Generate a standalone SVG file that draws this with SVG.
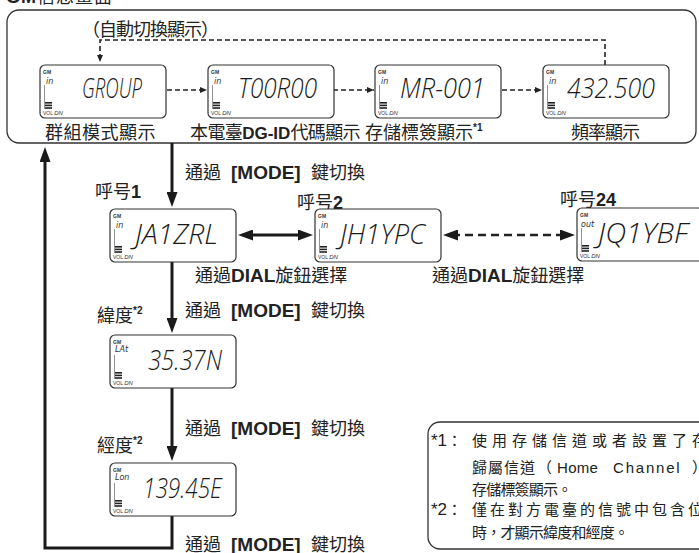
<svg xmlns="http://www.w3.org/2000/svg" xmlns:xlink="http://www.w3.org/1999/xlink" width="699" height="553" viewBox="0 0 699 553">
<style>
.lbl{font-family:"Noto Sans CJK TC","Noto Sans CJK SC",sans-serif;font-size:18px;fill:#222}
.note{font-family:"Noto Sans CJK TC","Noto Sans CJK SC",sans-serif;font-size:15px;fill:#222}
.b{font-family:"Liberation Sans",Arial,sans-serif;font-weight:bold}
.lat{font-family:"Liberation Sans",Arial,sans-serif}
.seg{font-family:"Open Sans","DejaVu Sans",sans-serif;font-style:italic;font-weight:300;font-size:27px;fill:#1a1a1a}
.ind{font-family:"DejaVu Sans",sans-serif;font-style:italic;font-size:8px;fill:#333}
.tiny{font-family:"Liberation Sans",Arial,sans-serif;font-size:5px;fill:#333}
.frame{fill:none;stroke:#333;stroke-width:1.3}
.thick{fill:none;stroke:#1a1a1a;stroke-width:3}
.dash{fill:none;stroke:#222;stroke-width:1.6;stroke-dasharray:5 3}
.dash2{fill:none;stroke:#222;stroke-width:2.5;stroke-dasharray:8 5}
</style>
<defs>
<marker id="big" viewBox="0 0 15 11" refX="6" refY="5.5" markerWidth="15" markerHeight="11" markerUnits="userSpaceOnUse" orient="auto-start-reverse">
<path d="M0,0 L15,5.5 L0,11 z" fill="#1a1a1a"/>
</marker>
<marker id="small" viewBox="0 0 7 6" refX="7" refY="3" markerWidth="7" markerHeight="6" markerUnits="userSpaceOnUse" orient="auto">
<path d="M0,0 L7,3 L0,6 z" fill="#222"/>
</marker>
<g id="lcdb">
<rect x="0" y="0" width="126" height="53" rx="5" fill="#fff" stroke="#333" stroke-width="1.2"/>
<text class="tiny" x="3" y="9" font-weight="bold">GM</text>
<line x1="4.5" y1="20" x2="4.5" y2="44" stroke="#777" stroke-width="0.8"/>
<rect x="5" y="37" width="7" height="1.6" fill="#222"/>
<rect x="5" y="39.6" width="7" height="1.6" fill="#222"/>
<rect x="5" y="42.2" width="7" height="1.6" fill="#222"/>
<text class="tiny" x="3" y="50">VOL <tspan font-style="italic" font-size="6">DN</tspan></text>
</g>
</defs>

<text class="lbl" x="6" y="3" font-size="22" letter-spacing="1"><tspan class="b">GM</tspan>信息畫面</text>

<g id="auto-frame">
<rect class="frame" x="7" y="10" width="689" height="133" rx="12"/>
<text class="lbl" x="82" y="36" font-size="18" letter-spacing="-1">（自動切換顯示）</text>
</g>

<g id="connectors">
<path class="dash" d="M605,65 V40 H100 V62" marker-end="url(#small)"/>
<path class="dash" d="M167,90 H207" marker-end="url(#small)"/>
<path class="dash" d="M333,90 H374" marker-end="url(#small)"/>
<path class="dash" d="M502,90 H542" marker-end="url(#small)"/>
<path class="thick" d="M172,143 V198" marker-end="url(#big)"/>
<path class="thick" d="M247,235 H304" marker-start="url(#big)" marker-end="url(#big)"/>
<path class="dash2" d="M452,235 H566" marker-start="url(#big)" marker-end="url(#big)"/>
<path class="thick" d="M172,261 V324" marker-end="url(#big)"/>
<path class="thick" d="M172,387 V452" marker-end="url(#big)"/>
<path class="thick" d="M172,515 V548 H45 V156" marker-end="url(#big)"/>
</g>

<g id="lcd-group" transform="translate(40,65)">
<use xlink:href="#lcdb" href="#lcdb"/>
<text class="ind" x="6" y="19">in</text>
<text class="seg" x="42" y="33" textLength="60" lengthAdjust="spacingAndGlyphs">GROUP</text>
</g>
<text id="lbl-group" class="lbl" x="45" y="139" letter-spacing="0.5">群組模式顯示</text>

<g id="lcd-dgid" transform="translate(208,65)">
<use xlink:href="#lcdb" href="#lcdb"/>
<text class="ind" x="6" y="19">in</text>
<text class="seg" x="30" y="33" textLength="79" lengthAdjust="spacingAndGlyphs">T00R00</text>
</g>
<text id="lbl-dgid" class="lbl" x="190" y="139" letter-spacing="-0.6">本電臺<tspan class="b" font-size="17" letter-spacing="0">DG-ID</tspan>代碼顯示</text>

<g id="lcd-tag" transform="translate(375,65)">
<use xlink:href="#lcdb" href="#lcdb"/>
<text class="ind" x="6" y="19">in</text>
<text class="seg" x="25" y="33" textLength="85" lengthAdjust="spacingAndGlyphs">MR-001</text>
</g>
<text id="lbl-tag" class="lbl" x="365" y="139">存儲標簽顯示<tspan class="b" font-size="10" dy="-8">*1</tspan></text>

<g id="lcd-freq" transform="translate(543,65)">
<use xlink:href="#lcdb" href="#lcdb"/>
<text class="ind" x="6" y="19">in</text>
<text class="seg" x="24" y="33" textLength="88" lengthAdjust="spacingAndGlyphs">432.500</text>
</g>
<text id="lbl-freq" class="lbl" x="571" y="139" letter-spacing="-1">頻率顯示</text>

<text class="lbl" x="185" y="179">通過 <tspan class="b" x="231" font-size="19">[MODE]</tspan><tspan x="311">鍵切換</tspan></text>

<text class="lbl" x="95" y="198">呼号<tspan class="b">1</tspan></text>
<g id="lcd-call1" transform="translate(110,209)">
<use xlink:href="#lcdb" href="#lcdb"/>
<text class="ind" x="6" y="19">in</text>
<text class="seg" x="25" y="35" textLength="83" lengthAdjust="spacingAndGlyphs">JA1ZRL</text>
</g>

<text class="lbl" x="297" y="209">呼号<tspan class="b">2</tspan></text>
<g id="lcd-call2" transform="translate(315,209)">
<use xlink:href="#lcdb" href="#lcdb"/>
<text class="ind" x="6" y="19">in</text>
<text class="seg" x="25" y="35" textLength="85" lengthAdjust="spacingAndGlyphs">JH1YPC</text>
</g>

<text class="lbl" x="560" y="206">呼号<tspan class="b">24</tspan></text>
<g id="lcd-call24" transform="translate(577,208)">
<use xlink:href="#lcdb" href="#lcdb"/>
<text class="ind" x="4" y="19">out</text>
<text class="seg" x="21" y="35" textLength="90" lengthAdjust="spacingAndGlyphs">JQ1YBF</text>
</g>

<text class="lbl" x="195" y="282">通過<tspan class="b" font-size="19">DIAL</tspan>旋鈕選擇</text>
<text class="lbl" x="432" y="282">通過<tspan class="b" font-size="19">DIAL</tspan>旋鈕選擇</text>

<text class="lbl" x="97" y="322">緯度<tspan class="b" font-size="10" dy="-8">*2</tspan></text>
<text class="lbl" x="185" y="317">通過 <tspan class="b" x="231" font-size="19">[MODE]</tspan><tspan x="311">鍵切換</tspan></text>
<g id="lcd-lat" transform="translate(110,335)">
<use xlink:href="#lcdb" href="#lcdb"/>
<text class="ind" x="5" y="17" font-size="7">LAt</text>
<text class="seg" x="38" y="35" textLength="74" lengthAdjust="spacingAndGlyphs">35.37N</text>
</g>

<text class="lbl" x="185" y="435">通過 <tspan class="b" x="231" font-size="19">[MODE]</tspan><tspan x="311">鍵切換</tspan></text>
<text class="lbl" x="97" y="452">經度<tspan class="b" font-size="10" dy="-8">*2</tspan></text>
<g id="lcd-lon" transform="translate(110,463)">
<use xlink:href="#lcdb" href="#lcdb"/>
<text class="ind" x="5" y="17" font-size="7">Lon</text>
<text class="seg" x="33" y="35" textLength="79" lengthAdjust="spacingAndGlyphs">139.45E</text>
</g>

<text class="lbl" x="185" y="551">通過 <tspan class="b" x="231" font-size="19">[MODE]</tspan><tspan x="311">鍵切換</tspan></text>

<g id="notes">
<rect class="frame" x="428" y="422" width="300" height="127" rx="12"/>
<text class="note" x="431" y="446"><tspan class="lat" font-size="17">*1</tspan>：</text>
<text class="note" x="472" y="446" letter-spacing="5">使用存儲信道或者設置了存</text>
<text class="note" x="472" y="473" letter-spacing="1">歸屬信道</text>
<text class="note" x="537" y="473">（</text>
<text class="note lat" x="557" y="473" font-size="17" letter-spacing="0.3">Home</text>
<text class="note lat" x="613" y="473" font-size="17" letter-spacing="1.8">Channel</text>
<text class="note" x="692" y="473">）</text>
<text class="note" x="472" y="495" letter-spacing="-0.8">存儲標簽顯示。</text>
<text class="note" x="431" y="515"><tspan class="lat" font-size="17">*2</tspan>：</text>
<text class="note" x="472" y="515" letter-spacing="3">僅在對方電臺的信號中包含位</text>
<text class="note" x="472" y="538" letter-spacing="-0.8">時，才顯示緯度和經度。</text>
</g>
</svg>
